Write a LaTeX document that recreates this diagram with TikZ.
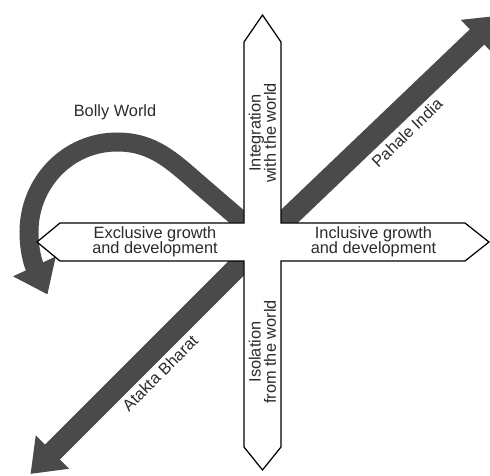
\documentclass[tikz,border=0pt]{standalone}
\usepackage{fontspec}
\setmainfont{Liberation Sans}
\usetikzlibrary{arrows.meta}
\definecolor{band-grey}{HTML}{4A4A4A}
\definecolor{label-ink}{HTML}{2B2B2B}

\begin{document}
\begin{tikzpicture}[
    band/.style={line width=0.42cm, color=band-grey,
      -{Triangle[width=0.9cm, length=0.62cm]}},
    lbl/.style={font=\fontsize{9.3}{8.7}\selectfont, text=label-ink,
      align=center, inner sep=1pt}]
  \clip (-5.25,-4.68) rectangle (4.55,4.84);
  % scenario arrows, under the two axes
  \coordinate (o) at (0,0);
  \coordinate (pahale-tip) at (4.74,4.53);
  \coordinate (atakta-tip) at (-4.64,-4.64);
  \coordinate (bolly-start) at (-0.1,0.15);
  \coordinate (bolly-tip) at (-4.3,-1.05);
  \draw[band] (o) -- (pahale-tip);
  \draw[band] (o) -- (atakta-tip);
  \draw[band, line width=0.38cm] (bolly-start) -- (-1.25,1.14)
    to[out=139,in=0] (-2.91,2.0) to[out=180,in=90] (-4.67,0.2)
    to[out=-90,in=115] (bolly-tip);
  % the two axes as one outline
  \draw[fill=white, line width=0.7pt] (0,4.54) -- (0.37,4.0) -- (0.37,0.38)
    -- (4.05,0.38) -- (4.53,0) -- (4.05,-0.38) -- (0.37,-0.38)
    -- (0.37,-4.1) -- (0,-4.56) -- (-0.37,-4.1) -- (-0.37,-0.38)
    -- (-4.05,-0.38) -- (-4.51,0) -- (-4.05,0.38) -- (-0.37,0.38)
    -- (-0.37,4.0) -- cycle;
  % labels
  \node[lbl] (exclusive) at (-2.15,0) {Exclusive growth\\and development};
  \node[lbl] (inclusive) at (2.22,0) {Inclusive growth\\and development};
  \node[lbl, rotate=90] (integration) at (0,2.18) {Integration\\with the world};
  \node[lbl, rotate=90] (isolation) at (0,-2.2) {Isolation\\from the world};
  \node[lbl, rotate=44] (pahale) at (2.89,2.18) {Pahale India};
  \node[lbl, rotate=45] (atakta) at (-2.05,-2.62) {Atakta Bharat};
  \node[lbl] (bolly) at (-2.95,2.6) {Bolly World};
\end{tikzpicture}
\end{document}
